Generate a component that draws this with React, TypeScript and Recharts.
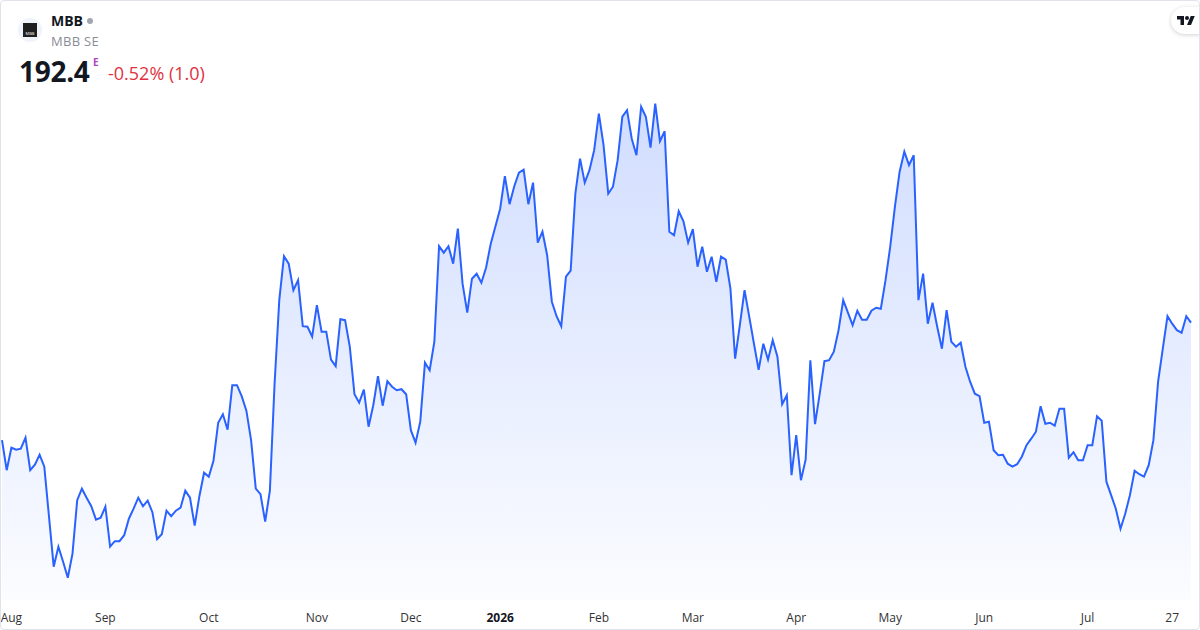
import React from 'react';
import { AreaChart, Area, XAxis, YAxis } from 'recharts';

// daily closes, Aug -> late Jul
const prices = [
  168.9, 162.9, 167.4, 167.0, 167.2, 169.4, 162.9, 164.0, 166.0, 163.6, 153.6, 143.6, 147.6, 144.6, 141.4, 146.2,
  156.9, 159.2, 157.4, 155.7, 153.0, 153.4, 155.6, 147.6, 148.7, 148.7, 149.9, 153.2, 155.2, 157.4, 155.7, 156.8,
  154.5,
  149.1, 150.1, 154.8, 153.7, 154.8, 155.4, 158.8, 157.4, 151.8, 157.7, 162.4, 161.6, 164.8, 172.4, 174.1, 171.0,
  179.9, 179.9, 177.7, 174.8, 168.9, 159.2, 158.1, 152.6, 158.8, 180.2, 196.9, 205.7, 204.2, 198.9, 200.9,
  191.7, 191.6, 189.6, 195.9, 190.6, 190.6, 185.0, 183.7, 193.1, 192.9, 187.6, 178.1, 176.4, 179.0, 171.6, 175.9,
  181.7, 175.8, 180.7, 179.6, 178.9, 179.1, 178.1, 170.9, 168.4, 172.6, 184.4, 182.9, 188.6, 207.7, 206.4, 207.7,
  204.2, 211.2, 200.2, 194.4, 201.2, 202.2, 200.4, 203.4, 208.2, 211.7, 215.2, 221.7, 216.1, 219.7, 222.4, 223.0,
  216.1, 220.4, 208.4, 210.6, 205.9, 196.6, 193.7, 191.7, 201.6, 202.8, 218.2, 225.2, 220.4, 222.9, 226.9,
  234.2, 227.9, 218.2, 219.6, 224.9, 233.6, 234.9, 229.2, 225.9, 235.6, 233.6, 227.4, 236.2, 228.7, 230.7, 210.6,
  209.9, 214.7, 212.7, 208.4, 211.1, 203.6, 207.6, 202.6, 205.6, 200.6, 205.6, 205.0, 199.2, 185.2, 191.9, 198.9,
  193.6, 188.2, 183.0, 188.2, 185.0, 188.9, 185.6, 176.1, 177.9, 161.9, 169.9, 160.9, 165.0, 184.9, 172.1, 178.2,
  184.7, 184.9, 186.6, 190.9, 196.9, 194.4, 191.9, 194.8, 193.0, 193.0, 194.8, 195.4, 195.2, 200.9, 207.6, 215.6,
  222.6,
  226.6, 223.9, 225.9, 196.9, 202.2, 192.2, 196.4, 191.6, 187.2, 194.9, 188.6, 187.6, 188.4, 183.6, 180.6, 178.2,
  177.7, 172.4, 172.6, 166.9, 165.9, 166.0, 164.2, 163.6, 164.1, 165.6, 167.9, 169.2, 170.6, 175.7, 172.2, 172.4,
  171.8, 175.2, 175.2, 165.4, 166.5, 164.9, 164.9, 167.9, 167.9, 173.7, 172.8, 160.6, 157.9, 155.2, 151.2, 154.2,
  157.9, 162.8, 162.1, 161.6, 163.9, 168.9, 180.6, 187.2, 193.7, 192.2, 190.9, 190.4, 193.7, 192.4,
];

const tickIndex = [2, 22, 44, 67, 87, 106, 127, 147, 169, 189, 209, 231, 249];
const tickLabels = ['Aug', 'Sep', 'Oct', 'Nov', 'Dec', '2026', 'Feb', 'Mar', 'Apr', 'May', 'Jun', 'Jul', '27'];

const data = prices.map((p, i) => ({ i, p }));
const FONT = '"Open Sans", "Noto Sans", sans-serif';

const MonthTick = ({ x, y, payload }: any) => {
  const label = tickLabels[tickIndex.indexOf(payload.value)] ?? '';
  const isYear = label === '2026';
  return (
    <text
      x={x}
      y={y + 15}
      textAnchor="middle"
      dominantBaseline="central"
      fontFamily={FONT}
      fontSize={12}
      fontWeight={isYear ? 700 : 400}
      fill={isYear ? '#131722' : '#333'}
    >
      {label}
    </text>
  );
};

export default function App() {
  return (
    <div style={{ position: 'fixed', left: 0, top: 0, width: 1200, height: 630, background: '#fff', fontFamily: FONT }}>
      <AreaChart width={1200} height={630} data={data} margin={{ top: 0, right: 9, bottom: 0, left: 2 }}>
        <defs>
          <linearGradient id="fillBlue" x1="0" y1="0" x2="0" y2="1">
            <stop offset="0%" stopColor="#2962ff" stopOpacity={0.36} />
            <stop offset="100%" stopColor="#2962ff" stopOpacity={0.03} />
          </linearGradient>
        </defs>
        <XAxis
          dataKey="i"
          type="number"
          domain={[0, prices.length - 1]}
          ticks={tickIndex}
          interval={0}
          height={30}
          axisLine={false}
          tickLine={false}
          tickSize={0}
          tick={<MonthTick />}
        />
        <YAxis hide domain={[136.94, 256.94]} allowDataOverflow />
        <Area
          type="linear"
          dataKey="p"
          stroke="#2962ff"
          strokeWidth={2}
          fill="url(#fillBlue)"
          isAnimationActive={false}
          dot={false}
          activeDot={false}
        />
      </AreaChart>

      {/* header */}
      <div style={{ position: 'absolute', left: 18, top: 18, width: 24, height: 24, borderRadius: 12, background: '#f0f3fa', display: 'flex', alignItems: 'center', justifyContent: 'center' }}>
        <div style={{ width: 14, height: 14, background: '#1e1e1e', color: '#fff', fontSize: 4, display: 'flex', alignItems: 'flex-end', justifyContent: 'center', lineHeight: '7px' }}>MBB</div>
      </div>
      <div style={{ position: 'absolute', left: 51, top: 11, fontSize: 14, fontWeight: 700, color: '#131722', display: 'flex', alignItems: 'center' }}>
        MBB
        <span style={{ display: 'inline-block', width: 6, height: 6, borderRadius: 3, background: '#a3a6af', marginLeft: 4 }} />
      </div>
      <div style={{ position: 'absolute', left: 51, top: 32, fontSize: 13, color: '#8a8d96', letterSpacing: 0.3 }}>MBB SE</div>
      <div style={{ position: 'absolute', left: 19, top: 52, fontSize: 28, fontWeight: 700, color: '#131722', letterSpacing: -0.3 }}>192.4</div>
      <div style={{ position: 'absolute', left: 93, top: 55, fontSize: 10, fontWeight: 700, color: '#ab47bc' }}>E</div>
      <div style={{ position: 'absolute', left: 108, top: 61, fontSize: 18, color: '#e0323f' }}>-0.52% (1.0)</div>

      {/* logo */}
      <div style={{ position: 'absolute', left: 1171, top: 7, width: 40, height: 27, borderRadius: 14, background: '#fff', boxShadow: '0 1px 4px rgba(0,0,0,0.18)' }}>
        <svg width={18} height={14} viewBox="0 0 36 28" style={{ position: 'absolute', left: 6, top: 7 }}>
          <path d="M14 22H7V11H0V4h14v18z" fill="#131722" />
          <path d="M28 22h-8l7.5-18h8L28 22z" fill="#131722" />
          <circle cx={20} cy={8} r={4} fill="#131722" />
        </svg>
      </div>

      <div style={{ position: 'absolute', inset: 0, border: '1px solid #e0e3eb', borderRadius: 4, pointerEvents: 'none' }} />
    </div>
  );
}
